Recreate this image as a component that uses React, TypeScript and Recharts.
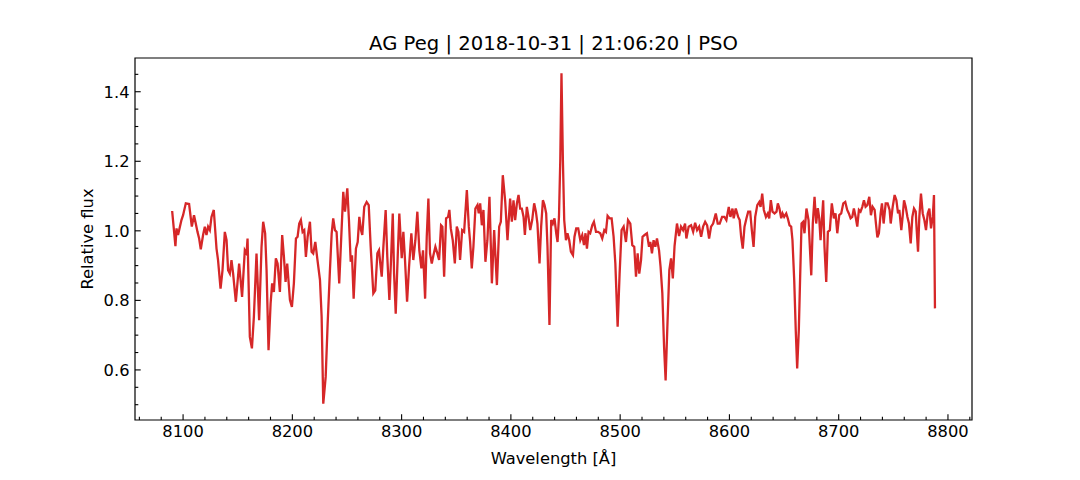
import React from "react";
import { LineChart, Line, XAxis, YAxis, ReferenceArea } from "recharts";

// wavelength samples [Å]
const wavelength = [
  8090.0, 8093.0, 8094.0, 8095.4, 8097.0, 8098.5, 8100.0, 8102.5, 8105.5, 8108.0,
  8110.0, 8111.6, 8113.2, 8114.7, 8116.2, 8118.3, 8119.9, 8121.4, 8122.9, 8124.5,
  8126.0, 8128.1, 8130.6, 8132.0, 8134.3, 8136.1, 8138.2, 8139.8, 8141.2, 8142.8,
  8144.3, 8145.8, 8148.3, 8151.3, 8154.0, 8156.5, 8158.1, 8159.0, 8161.1, 8163.0,
  8164.8, 8167.2, 8169.6, 8171.8, 8173.3, 8175.1, 8176.4, 8178.2, 8180.1, 8181.5,
  8183.1, 8184.9, 8186.5, 8188.6, 8190.7, 8192.3, 8193.8, 8195.3, 8197.8, 8199.6,
  8201.4, 8203.3, 8204.8, 8206.3, 8207.8, 8209.4, 8210.9, 8212.4, 8214.0, 8216.1,
  8217.6, 8219.1, 8221.0, 8222.8, 8225.3, 8226.8, 8228.3, 8230.5, 8232.3, 8234.4,
  8236.0, 8237.4, 8239.0, 8240.5, 8242.9, 8244.5, 8246.6, 8248.2, 8250.3, 8251.8,
  8253.4, 8254.6, 8256.1, 8258.2, 8259.8, 8261.3, 8262.8, 8264.0, 8265.8, 8268.0,
  8269.9, 8271.7, 8274.1, 8275.9, 8277.8, 8279.3, 8280.5, 8281.8, 8283.3, 8285.4,
  8286.9, 8288.8, 8290.3, 8291.9, 8293.1, 8294.6, 8296.4, 8297.9, 8300.1, 8301.6,
  8303.1, 8305.0, 8306.8, 8308.9, 8310.7, 8312.6, 8314.4, 8316.2, 8318.1, 8319.6,
  8321.5, 8323.0, 8324.5, 8326.0, 8327.6, 8329.1, 8330.9, 8332.7, 8334.3, 8336.1,
  8337.3, 8338.9, 8340.7, 8342.5, 8343.7, 8345.0, 8346.8, 8348.7, 8350.5, 8352.0,
  8353.5, 8355.4, 8357.2, 8359.7, 8361.5, 8362.7, 8364.2, 8365.7, 8367.5, 8369.4,
  8370.6, 8371.9, 8373.4, 8374.9, 8376.7, 8378.5, 8380.4, 8382.6, 8384.7, 8387.2,
  8389.3, 8390.8, 8392.6, 8394.8, 8396.9, 8399.3, 8400.9, 8402.4, 8403.9, 8405.5,
  8407.0, 8408.5, 8410.0, 8411.6, 8412.8, 8414.6, 8416.1, 8417.7, 8419.5, 8421.3,
  8422.9, 8424.3, 8426.2, 8427.7, 8429.3, 8430.8, 8432.3, 8433.5, 8435.3, 8436.9,
  8438.4, 8439.9, 8441.5, 8442.7, 8444.0, 8445.2, 8446.3, 8447.6, 8448.8, 8450.4,
  8451.8, 8453.4, 8454.9, 8456.8, 8458.2, 8459.8, 8461.6, 8463.5, 8465.3, 8466.9,
  8468.3, 8469.6, 8471.1, 8472.6, 8474.5, 8476.0, 8477.9, 8479.7, 8481.8, 8483.6,
  8485.5, 8487.0, 8488.5, 8490.3, 8492.2, 8494.0, 8495.6, 8497.7, 8499.5, 8501.3,
  8503.2, 8505.3, 8507.2, 8509.3, 8511.1, 8512.9, 8514.5, 8516.0, 8517.5, 8519.1,
  8520.5, 8522.4, 8524.5, 8526.4, 8527.6, 8529.1, 8530.6, 8532.2, 8533.7, 8535.6,
  8537.0, 8538.6, 8540.2, 8541.6, 8543.2, 8545.0, 8546.6, 8548.2, 8549.8, 8552.0,
  8553.9, 8555.7, 8557.6, 8559.4, 8560.6, 8562.7, 8564.9, 8566.8, 8568.6, 8570.4,
  8572.3, 8574.1, 8575.9, 8577.8, 8579.6, 8581.4, 8583.2, 8585.1, 8587.5, 8589.3,
  8591.1, 8593.3, 8595.4, 8597.2, 8599.4, 8600.9, 8602.8, 8603.9, 8605.8, 8608.0,
  8609.4, 8610.7, 8612.2, 8613.8, 8615.6, 8617.2, 8619.0, 8620.5, 8622.1, 8623.6,
  8625.5, 8627.3, 8628.5, 8630.0, 8631.5, 8633.4, 8635.1, 8636.4, 8637.9, 8639.4,
  8641.3, 8643.1, 8644.3, 8645.8, 8647.4, 8648.6, 8650.1, 8652.0, 8653.4, 8655.0,
  8656.5, 8657.7, 8659.3, 8660.7, 8662.0, 8663.5, 8664.8, 8666.0, 8667.5, 8668.7,
  8670.5, 8672.4, 8673.6, 8674.9, 8676.3, 8677.9, 8679.4, 8680.9, 8682.2, 8683.4,
  8685.8, 8687.0, 8688.6, 8690.1, 8691.9, 8693.7, 8695.6, 8697.1, 8698.7, 8700.5,
  8702.3, 8704.2, 8706.0, 8707.8, 8709.3, 8710.9, 8712.4, 8713.9, 8715.5, 8717.0,
  8718.5, 8720.0, 8721.6, 8723.1, 8724.6, 8726.2, 8728.0, 8729.5, 8731.0, 8732.9,
  8734.1, 8735.4, 8736.8, 8738.4, 8739.6, 8741.1, 8743.0, 8744.8, 8746.6, 8747.6,
  8749.4, 8751.2, 8752.8, 8754.3, 8755.5, 8757.3, 8758.5, 8759.8, 8761.3, 8762.9,
  8764.3, 8765.9, 8767.4, 8768.9, 8770.5, 8771.4, 8772.6, 8773.8, 8775.3, 8776.9,
  8778.4, 8779.9, 8781.5, 8783.0, 8784.5, 8786.1, 8787.2, 8788.1,
];

// relative flux at each wavelength
const flux = [
  1.057, 0.956, 1.007, 0.988, 1.010, 1.031, 1.045, 1.079, 1.077, 1.012,
  1.045, 1.021, 0.997, 0.978, 0.947, 0.988, 1.012, 0.988, 1.012, 1.002,
  1.040, 1.060, 0.949, 0.916, 0.834, 0.887, 0.997, 0.973, 0.887, 0.877,
  0.916, 0.877, 0.796, 0.906, 0.810, 0.944, 0.935, 0.978, 0.695, 0.662,
  0.753, 0.935, 0.743, 0.954, 1.026, 0.993, 0.887, 0.657, 0.791, 0.849,
  0.824, 0.921, 0.906, 0.824, 0.988, 0.925, 0.853, 0.906, 0.801, 0.781,
  0.849, 0.978, 0.983, 1.021, 1.031, 0.997, 1.002, 0.925, 0.983, 1.026,
  0.940, 0.935, 0.968, 0.921, 0.858, 0.753, 0.503, 0.580, 0.733, 0.887,
  0.993, 1.036, 1.002, 0.997, 0.849, 0.964, 1.112, 1.055, 1.122, 1.031,
  0.911, 0.930, 0.805, 0.949, 0.968, 1.040, 1.002, 0.988, 1.069, 1.083,
  1.074, 0.954, 0.820, 0.829, 0.935, 0.944, 0.906, 0.868, 0.954, 1.060,
  0.925, 0.801, 0.916, 1.050, 0.877, 0.762, 0.925, 1.050, 0.921, 0.997,
  0.916, 0.796, 0.896, 0.993, 0.916, 0.973, 1.055, 0.944, 0.892, 0.944,
  0.805, 0.983, 1.093, 0.935, 0.906, 0.930, 0.954, 0.935, 0.916, 1.016,
  1.012, 0.868, 1.036, 1.040, 1.060, 1.007, 0.973, 0.906, 1.012, 0.997,
  0.916, 1.002, 0.997, 1.117, 1.012, 0.968, 0.892, 0.954, 1.064, 1.074,
  1.050, 1.079, 1.016, 1.060, 0.911, 0.973, 1.098, 0.849, 1.002, 0.844,
  1.012, 1.026, 1.160, 1.085, 0.973, 1.093, 1.026, 1.088, 1.031, 1.079,
  1.103, 1.064, 1.064, 1.040, 0.988, 1.069, 1.040, 1.002, 1.031, 1.079,
  1.055, 1.021, 0.906, 1.012, 1.088, 1.074, 1.050, 0.954, 0.729, 1.031,
  1.021, 1.036, 0.993, 0.968, 1.040, 1.203, 1.453, 1.203, 1.031, 0.973,
  0.993, 0.973, 0.940, 0.930, 0.983, 1.007, 1.007, 0.973, 0.988, 0.959,
  0.993, 0.949, 0.997, 0.993, 1.016, 1.026, 0.997, 0.997, 0.993, 0.978,
  1.002, 0.997, 1.043, 1.036, 1.036, 0.983, 0.906, 0.724, 0.877, 1.002,
  1.012, 0.968, 1.031, 1.021, 0.959, 0.954, 0.868, 0.935, 0.877, 0.916,
  0.983, 0.988, 0.993, 0.954, 0.968, 0.935, 0.973, 0.954, 0.978, 0.944,
  0.896, 0.820, 0.666, 0.570, 0.724, 0.887, 0.921, 0.863, 0.957, 1.021,
  0.985, 1.012, 1.002, 1.021, 0.978, 1.012, 1.016, 0.997, 1.023, 1.002,
  1.012, 0.983, 1.012, 1.026, 1.016, 0.978, 1.012, 1.021, 1.050, 1.021,
  1.021, 1.040, 1.040, 1.031, 1.069, 1.040, 1.064, 1.036, 1.064, 1.040,
  1.031, 0.983, 0.949, 1.012, 1.036, 1.055, 1.055, 1.002, 0.954, 1.040,
  1.074, 1.083, 1.069, 1.107, 1.060, 1.040, 1.050, 1.036, 1.088, 1.055,
  1.050, 1.055, 1.079, 1.064, 1.036, 1.050, 1.040, 1.050, 1.036, 1.016,
  1.012, 0.973, 0.858, 0.714, 0.604, 0.714, 0.877, 1.021, 1.026, 0.993,
  1.064, 1.031, 0.954, 0.872, 1.021, 1.098, 1.021, 1.065, 1.036, 0.973,
  1.088, 0.954, 0.853, 0.997, 1.002, 1.079, 1.036, 1.050, 0.993, 1.045,
  1.050, 1.079, 1.083, 1.060, 1.050, 1.036, 1.040, 1.064, 1.040, 1.012,
  1.060, 1.055, 1.069, 1.088, 1.069, 1.074, 1.098, 1.045, 1.069, 1.060,
  1.021, 0.981, 0.993, 1.050, 1.079, 1.021, 1.079, 1.079, 1.060, 1.021,
  1.069, 1.103, 1.088, 1.050, 1.060, 1.002, 1.040, 1.088, 1.069, 1.040,
  1.021, 0.964, 1.040, 1.064, 1.055, 1.002, 0.940, 1.040, 1.107, 1.050,
  1.031, 1.002, 1.050, 1.064, 1.007, 1.040, 1.103, 0.777,
];

const xMajorTicks = [8100, 8200, 8300, 8400, 8500, 8600, 8700, 8800];
const yMajorTicks = [0.6, 0.8, 1.0, 1.2, 1.4];

const TITLE = "AG Peg | 2018-10-31 | 21:06:20 | PSO";
const X_LABEL = "Wavelength [Å]";
const Y_LABEL = "Relative flux";

const X_DOMAIN: [number, number] = [8056, 8822];
const Y_DOMAIN: [number, number] = [0.456, 1.497];

const FONT = "'DejaVu Sans', sans-serif";
const RED = "#d62728";

// minor ticks: every 20 Å and every 0.05 in flux
const xTicks: number[] = [];
for (let w = 8060; w <= 8820; w += 20) xTicks.push(w);
const yTicks: number[] = [];
for (let i = 0; i <= 19; i++) yTicks.push(Math.round((0.5 + i * 0.05) * 100) / 100);

const data = wavelength.map((w, i) => ({ w, f: flux[i] }));

function XTick({ x, y, payload }: any) {
  const v = payload.value;
  const major = xMajorTicks.includes(v);
  return (
    <g>
      <line x1={x} x2={x} y1={y} y2={y - (major ? 5.7 : 3.3)} stroke="#000" strokeWidth={1.1} />
      {major && (
        <text x={x} y={y + 16.5} textAnchor="middle" fontFamily={FONT} fontSize={16.3} fill="#000">
          {v}
        </text>
      )}
    </g>
  );
}

function YTick({ x, y, payload }: any) {
  const v = payload.value;
  const major = yMajorTicks.some((t) => Math.abs(t - v) < 1e-6);
  return (
    <g>
      <line x1={x} x2={x + (major ? 5.7 : 3.3)} y1={y} y2={y} stroke="#000" strokeWidth={1.1} />
      {major && (
        <text x={x - 5.5} y={y + 6} textAnchor="end" fontFamily={FONT} fontSize={16.3} fill="#000">
          {v.toFixed(1)}
        </text>
      )}
    </g>
  );
}

export default function App() {
  return (
    <div style={{ position: "absolute", left: 0, top: 0, width: 1080, height: 480, background: "#fff" }}>
      <LineChart
        width={1080}
        height={480}
        data={data}
        margin={{ top: 58, right: 108, bottom: 20, left: 75 }}
      >
        <XAxis
          dataKey="w"
          type="number"
          domain={X_DOMAIN}
          ticks={xTicks}
          interval={0}
          height={40}
          tickSize={0}
          tickMargin={0}
          tickLine={false}
          axisLine={false}
          tick={<XTick />}
          allowDataOverflow
        />
        <YAxis
          type="number"
          domain={Y_DOMAIN}
          ticks={yTicks}
          interval={0}
          width={60}
          tickSize={0}
          tickMargin={0}
          tickLine={false}
          axisLine={false}
          tick={<YTick />}
          allowDataOverflow
        />
        <Line
          dataKey="f"
          type="linear"
          stroke={RED}
          strokeWidth={2.3}
          dot={false}
          isAnimationActive={false}
        />
        {/* axes frame */}
        <ReferenceArea
          x1={X_DOMAIN[0]}
          x2={X_DOMAIN[1]}
          y1={Y_DOMAIN[0]}
          y2={Y_DOMAIN[1]}
          fill="none"
          fillOpacity={0}
          stroke="#000"
          strokeWidth={1.2}
          strokeOpacity={1}
          ifOverflow="visible"
        />
      </LineChart>
      <svg
        width={1080}
        height={480}
        style={{ position: "absolute", left: 0, top: 0, pointerEvents: "none" }}
      >
        <text x={553.5} y={50} textAnchor="middle" fontFamily={FONT} fontSize={19.6} fill="#000">
          {TITLE}
        </text>
        <text x={553.5} y={464} textAnchor="middle" fontFamily={FONT} fontSize={16.3} fill="#000">
          {X_LABEL}
        </text>
        <text
          x={93}
          y={239}
          textAnchor="middle"
          fontFamily={FONT}
          fontSize={16.3}
          fill="#000"
          transform="rotate(-90, 93, 239)"
        >
          {Y_LABEL}
        </text>
      </svg>
    </div>
  );
}
